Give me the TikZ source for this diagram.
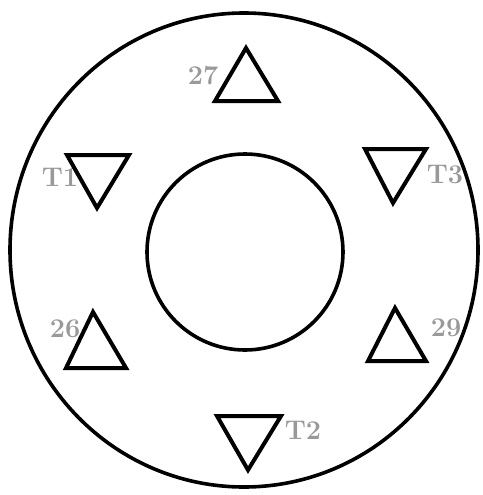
\documentclass[tikz,border=0pt]{standalone}
\usepackage{fontspec}
\usepackage{tikz}
\begin{document}
\begin{tikzpicture}[x=1pt,y=-1pt,
  ring/.style={line width=3.6pt,draw=black},
  tri/.style={line width=4pt,draw=black,line join=miter},
  lbl/.style={text=black!40,font=\bfseries\fontsize{27}{27}\selectfont,inner sep=0pt}]
\useasboundingbox (0,0) rectangle (482,495);
% circles
\draw[ring] (244,250) ellipse [x radius=234, y radius=237];
\draw[ring] (245,252) circle [radius=98];
% triangles
\draw[tri] (246,48) -- (278,101) -- (215,101) -- cycle;
\draw[tri] (67,155) -- (129,155) -- (97,208) -- cycle;
\draw[tri] (365,149) -- (426,149) -- (393,203) -- cycle;
\draw[tri] (93,312) -- (126,368) -- (66,368) -- cycle;
\draw[tri] (395,308) -- (426,361) -- (368,361) -- cycle;
\draw[tri] (217,416) -- (281,416) -- (248,470) -- cycle;
% labels
\node[lbl] (l27) at (203,76) {27};
\node[lbl] (lT1) at (60,177) {T1};
\node[lbl] (lT3) at (445,175) {T3};
\node[lbl] (l26) at (65,329) {26};
\node[lbl] (l29) at (446,328) {29};
\node[lbl] (lT2) at (303,430) {T2};
\end{tikzpicture}
\end{document}
